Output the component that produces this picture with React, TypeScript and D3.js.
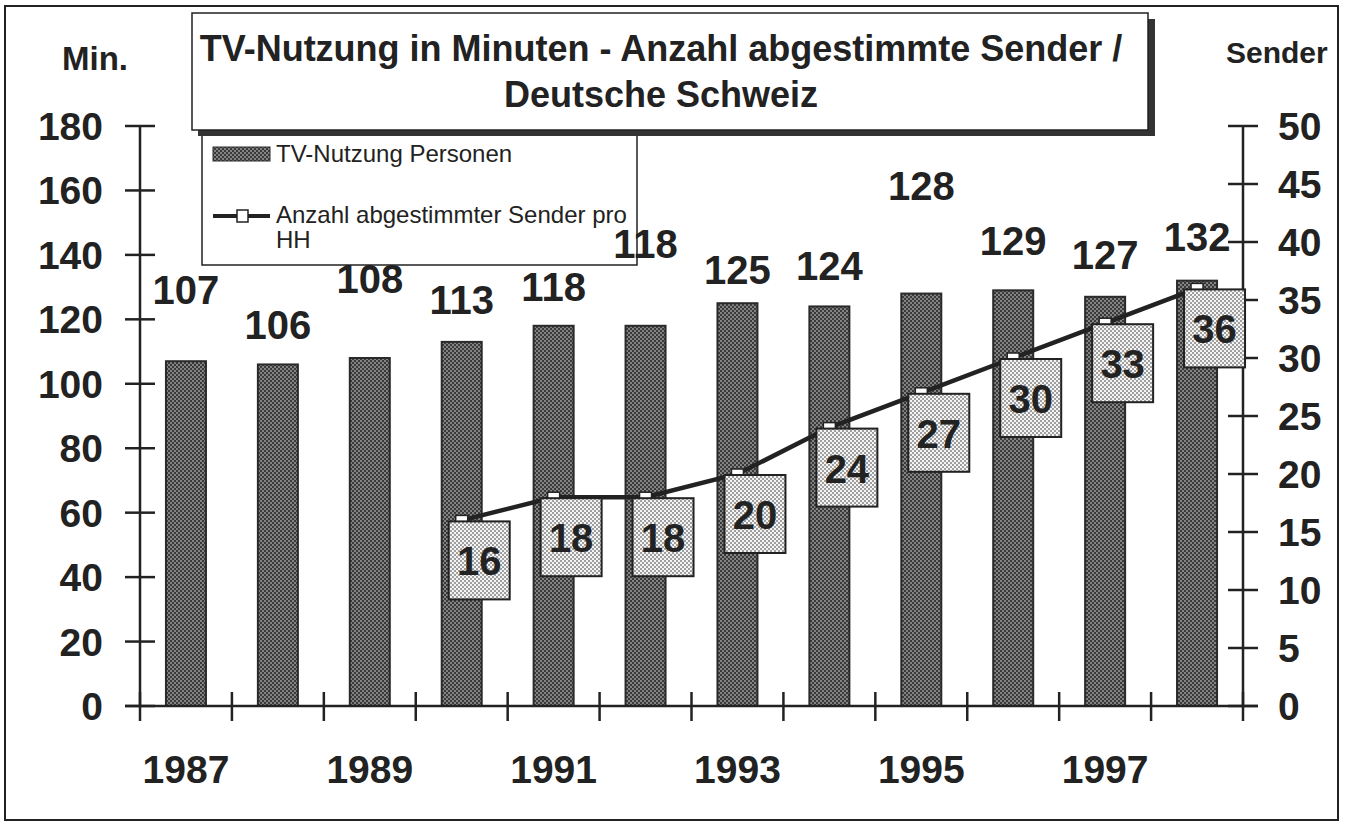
import React from "react";
import * as d3 from "d3";

const years = [1987, 1988, 1989, 1990, 1991, 1992, 1993, 1994, 1995, 1996, 1997, 1998];
const tvMinutes = [107, 106, 108, 113, 118, 118, 125, 124, 128, 129, 127, 132];
// label baseline heights (in minutes-axis units) as placed in the original
const tvLabelAt = [124.8, 113.9, 128.2, 121.7, 125.7, 139.0, 131.0, 132.2, 156.9, 140.0, 135.6, 141.2];
const senderYears = [1990, 1991, 1992, 1993, 1994, 1995, 1996, 1997, 1998];
const senderCount = [16, 18, 18, 20, 24, 27, 30, 33, 36];
const leftTicks = [0, 20, 40, 60, 80, 100, 120, 140, 160, 180];
const rightTicks = [0, 5, 10, 15, 20, 25, 30, 35, 40, 45, 50];
const yearLabels = [1987, 1989, 1991, 1993, 1995, 1997];

const W = 1351;
const H = 823;
const FONT = "'Liberation Sans', Arial, Helvetica, sans-serif";

export default function App() {
  const x = d3.scaleBand<number>().domain(years).range([140, 1243]).padding(0);
  const bw = x.bandwidth();
  const barW = 40;
  const yL = d3.scaleLinear().domain([0, 180]).range([706, 126]);
  const yR = d3.scaleLinear().domain([0, 50]).range([706, 126]);
  const cx = (yr: number) => (x(yr) as number) + bw / 2;

  const line = d3
    .line<number>()
    .x((_, i) => cx(senderYears[i]))
    .y((d) => yR(d));

  const boundaries = d3.range(years.length + 1).map((i) => 140 + i * bw);

  return (
    <svg
      width={W}
      height={H}
      style={{ position: "absolute", left: 0, top: 0, background: "#fff" }}
      fontFamily={FONT}
    >
      <defs>
        <pattern id="dark" width="4" height="4" patternUnits="userSpaceOnUse">
          <rect width="4" height="4" fill="#3a3a3a" />
          <circle cx="1" cy="1" r="0.8" fill="#e0e0e0" />
          <circle cx="3" cy="3" r="0.8" fill="#e0e0e0" />
        </pattern>
        <pattern id="light" width="4" height="4" patternUnits="userSpaceOnUse">
          <rect width="4" height="4" fill="#f4f4f4" />
          <circle cx="1" cy="1" r="0.8" fill="#333" />
          <circle cx="3" cy="3" r="0.8" fill="#333" />
        </pattern>
      </defs>

      {/* outer frame */}
      <rect x={5} y={6} width={1333} height={814} fill="none" stroke="#222" strokeWidth={2} />

      {/* bars */}
      {years.map((yr, i) => (
        <rect
          key={yr}
          x={cx(yr) - barW / 2}
          y={yL(tvMinutes[i])}
          width={barW}
          height={yL(0) - yL(tvMinutes[i])}
          fill="url(#dark)"
          stroke="#2a2a2a"
          strokeWidth={2}
        />
      ))}

      {/* left axis */}
      <line x1={140} x2={140} y1={yL(180)} y2={yL(0)} stroke="#222" strokeWidth={2.5} />
      {leftTicks.map((t) => (
        <g key={"lt" + t}>
          <line x1={125} x2={155} y1={yL(t)} y2={yL(t)} stroke="#222" strokeWidth={2.5} />
          <text x={103} y={yL(t) + 14} textAnchor="end" fontSize={39} fontWeight="bold" fill="#222">
            {t}
          </text>
        </g>
      ))}

      {/* right axis */}
      <line x1={1243} x2={1243} y1={yR(50)} y2={yR(0)} stroke="#222" strokeWidth={2.5} />
      {rightTicks.map((t) => (
        <g key={"rt" + t}>
          <line x1={1228} x2={1258} y1={yR(t)} y2={yR(t)} stroke="#222" strokeWidth={2.5} />
          <text x={1278} y={yR(t) + 14} textAnchor="start" fontSize={39} fontWeight="bold" fill="#222">
            {t}
          </text>
        </g>
      ))}

      {/* x axis */}
      <line x1={125} x2={1258} y1={yL(0)} y2={yL(0)} stroke="#222" strokeWidth={2.5} />
      {boundaries.map((b, i) => (
        <line key={"xt" + i} x1={b} x2={b} y1={yL(0) - 14} y2={yL(0) + 15} stroke="#222" strokeWidth={2.5} />
      ))}
      {yearLabels.map((yr) => (
        <text key={"yl" + yr} x={cx(yr)} y={783} textAnchor="middle" fontSize={39} fontWeight="bold" fill="#222">
          {yr}
        </text>
      ))}

      {/* sender line */}
      <path d={line(senderCount) || ""} fill="none" stroke="#222" strokeWidth={4.5} />
      {senderYears.map((yr, i) => {
        const px = cx(yr);
        const py = yR(senderCount[i]);
        return (
          <g key={"s" + yr}>
            <rect x={px - 6} y={py - 5} width={12} height={10} fill="#fff" stroke="#222" strokeWidth={1.5} />
            <rect x={px - 13} y={py + 1} width={61} height={78} fill="url(#light)" stroke="#222" strokeWidth={2} />
            <text x={px + 17.5} y={py + 55} textAnchor="middle" fontSize={40} fontWeight="bold" fill="#222">
              {senderCount[i]}
            </text>
          </g>
        );
      })}

      {/* axis titles */}
      <text x={62} y={70} fontSize={33} fontWeight="bold" fill="#222">Min.</text>
      <text x={1226} y={63} fontSize={30} fontWeight="bold" fill="#222">Sender</text>

      {/* legend box (fill) */}
      <rect x={202} y={130} width={435} height={135} fill="#fff" />
      <rect x={213} y={147} width={57} height={14} fill="url(#dark)" stroke="#2a2a2a" strokeWidth={1} />
      <text x={276} y={162} fontSize={24} fill="#222">TV-Nutzung Personen</text>
      <line x1={213} x2={270} y1={216} y2={216} stroke="#222" strokeWidth={4} />
      <rect x={237} y={210} width={11} height={12} fill="#fff" stroke="#222" strokeWidth={1.5} />
      <text x={276} y={223} fontSize={24} fill="#222">Anzahl abgestimmter Sender pro</text>
      <text x={276} y={248} fontSize={24} fill="#222">HH</text>

      {/* bar value labels */}
      {years.map((yr, i) => (
        <text
          key={"l" + yr}
          x={cx(yr)}
          y={yL(tvLabelAt[i])}
          textAnchor="middle"
          fontSize={40}
          fontWeight="bold"
          fill="#222"
        >
          {tvMinutes[i]}
        </text>
      ))}

      {/* legend border on top */}
      <rect x={202} y={130} width={435} height={135} fill="none" stroke="#222" strokeWidth={1.5} />

      {/* title box with shadow */}
      <rect x={198} y={19} width={957} height={117} fill="#333" />
      <rect x={192} y={13} width={956} height={117} fill="#fff" stroke="#222" strokeWidth={1.5} />
      <text x={661} y={61} textAnchor="middle" fontSize={36} fontWeight="bold" fill="#222">
        TV-Nutzung in Minuten - Anzahl abgestimmte Sender /
      </text>
      <text x={661} y={107} textAnchor="middle" fontSize={36} fontWeight="bold" fill="#222">
        Deutsche Schweiz
      </text>
    </svg>
  );
}
